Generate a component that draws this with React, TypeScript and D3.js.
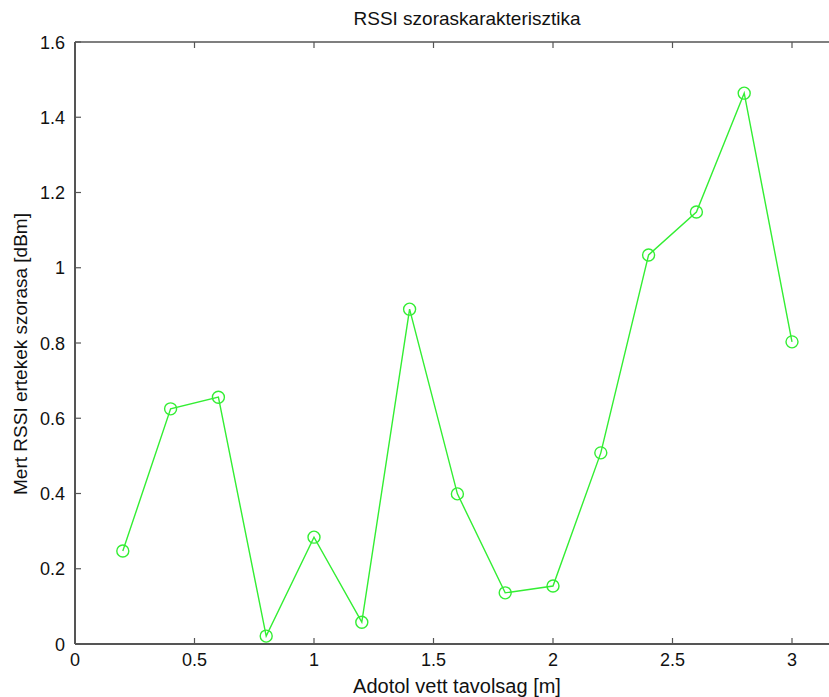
import React from "react";
import * as d3 from "d3";

const distances = [0.2, 0.4, 0.6, 0.8, 1.0, 1.2, 1.4, 1.6, 1.8, 2.0, 2.2, 2.4, 2.6, 2.8, 3.0];
const rssiStd = [0.247, 0.625, 0.656, 0.021, 0.284, 0.058, 0.89, 0.399, 0.136, 0.154, 0.508, 1.034, 1.148, 1.464, 0.803];
const xTicks = [0, 0.5, 1, 1.5, 2, 2.5, 3];
const yTicks = [0, 0.2, 0.4, 0.6, 0.8, 1, 1.2, 1.4, 1.6];

const W = 829, H = 697;
const left = 75, top = 42, bottom = 644;
const pxPerUnit = 239;
const right = left + 3.2 * pxPerUnit;

export default function App() {
  const x = d3.scaleLinear().domain([0, 3.2]).range([left, right]);
  const y = d3.scaleLinear().domain([0, 1.6]).range([bottom, top]);
  const line = d3.line<number>().x((_, i) => x(distances[i])).y((d) => y(d));
  const axisColor = "#555";
  const font = "'Liberation Sans', Arial, Helvetica, sans-serif";
  const tl = 6;
  const green = "#33ee33";
  return (
    <svg width={W} height={H} style={{ position: "fixed", left: 0, top: 0, background: "#fff" }}>
      <rect x={0} y={0} width={W} height={H} fill="#fff" />
      <line x1={left} x2={right} y1={top} y2={top} stroke={axisColor} strokeWidth={1.5} />
      <line x1={left} x2={right} y1={bottom} y2={bottom} stroke={axisColor} strokeWidth={2} />
      <line x1={left} x2={left} y1={top} y2={bottom} stroke={axisColor} strokeWidth={2} />
      <line x1={right} x2={right} y1={top} y2={bottom} stroke={axisColor} strokeWidth={1.5} />
      {xTicks.map((t) => (
        <g key={"x" + t}>
          <line x1={x(t)} x2={x(t)} y1={bottom} y2={bottom - tl} stroke={axisColor} strokeWidth={1.2} />
          <line x1={x(t)} x2={x(t)} y1={top} y2={top + tl} stroke={axisColor} strokeWidth={1.2} />
          <text x={x(t)} y={bottom + 22} textAnchor="middle" fontFamily={font} fontSize={18} fill="#111">
            {String(t)}
          </text>
        </g>
      ))}
      {yTicks.map((t) => (
        <g key={"y" + t}>
          <line x1={left} x2={left + tl} y1={y(t)} y2={y(t)} stroke={axisColor} strokeWidth={1.2} />
          <line x1={right} x2={right - tl} y1={y(t)} y2={y(t)} stroke={axisColor} strokeWidth={1.2} />
          <text x={left - 10} y={y(t) + 6.5} textAnchor="end" fontFamily={font} fontSize={18} fill="#111">
            {String(+t.toFixed(1))}
          </text>
        </g>
      ))}
      <path d={line(rssiStd) || ""} fill="none" stroke={green} strokeWidth={1.4} />
      {rssiStd.map((v, i) => (
        <circle key={i} cx={x(distances[i])} cy={y(v)} r={6} fill="none" stroke={green} strokeWidth={1.4} />
      ))}
      <text x={467} y={25} textAnchor="middle" fontFamily={font} fontSize={19} fill="#111">
        RSSI szoraskarakterisztika
      </text>
      <text x={457} y={693} textAnchor="middle" fontFamily={font} fontSize={20} fill="#111">
        Adotol vett tavolsag [m]
      </text>
      <text
        transform={`translate(27,${354}) rotate(-90)`}
        textAnchor="middle"
        fontFamily={font}
        fontSize={19}
        fill="#111"
      >
        Mert RSSI ertekek szorasa [dBm]
      </text>
    </svg>
  );
}
